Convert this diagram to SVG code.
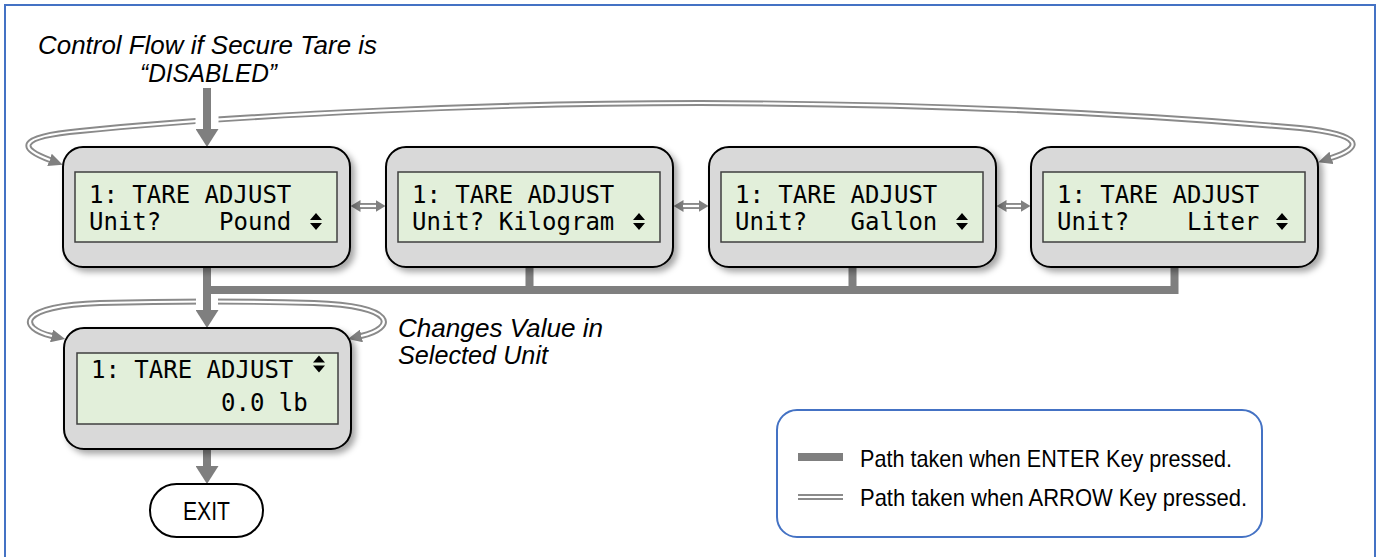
<svg xmlns="http://www.w3.org/2000/svg" width="1378" height="557" viewBox="0 0 1378 557">
  <defs>
    <style>
      .node { fill: #d9d9d9; stroke: #000; stroke-width: 2; }
      .lcd { fill: #e2efda; stroke: #3f3f3f; stroke-width: 1.5; }
      .mono { font-family: "DejaVu Sans Mono", "Liberation Mono", monospace; font-size: 24px; fill: #000; }
      .ital { font-family: "Liberation Sans", Arial, sans-serif; font-style: italic; font-size: 26px; fill: #000; }
      .sans { font-family: "Liberation Sans", Arial, sans-serif; font-size: 24px; fill: #000; }
      .enter { fill: none; stroke: #7f7f7f; stroke-width: 8; }
      .dbl-out { fill: none; stroke: #8a8a8a; stroke-width: 6; }
      .dbl-in { fill: none; stroke: #fff; stroke-width: 2.2; }
      .updn { fill: #000; }
    </style>
    <filter id="shadow" x="-10%" y="-10%" width="125%" height="130%">
      <feDropShadow dx="4" dy="4" stdDeviation="3" flood-color="#000" flood-opacity="0.35"/>
    </filter>
    <marker id="ah-enter" markerUnits="userSpaceOnUse" markerWidth="18" markerHeight="23" viewBox="0 0 18 23" refX="0" refY="11.5" orient="auto">
      <path d="M0,0 L18,11.5 L0,23 z" fill="#7f7f7f"/>
    </marker>
    <marker id="ah-arrow" markerUnits="userSpaceOnUse" markerWidth="14" markerHeight="13" viewBox="0 0 14 13" refX="0.5" refY="6.5" orient="auto-start-reverse">
      <path d="M0,0 L14,6.5 L0,13 z" fill="#808080"/>
    </marker>
    <marker id="ah-small" markerUnits="userSpaceOnUse" markerWidth="10" markerHeight="12" viewBox="0 0 10 12" refX="0.5" refY="6" orient="auto-start-reverse">
      <path d="M0,0 L10,6 L0,12 z" fill="#808080"/>
    </marker>
  </defs>

  <rect x="5" y="5" width="1370" height="560" fill="#fff" stroke="#4472c4" stroke-width="2"/>

  <g id="labels">
    <text class="ital" x="38" y="54" textLength="339" lengthAdjust="spacingAndGlyphs">Control Flow if Secure Tare is</text>
    <text class="ital" x="140" y="82" textLength="137" lengthAdjust="spacingAndGlyphs">“DISABLED”</text>
    <text class="ital" x="398" y="337" textLength="205" lengthAdjust="spacingAndGlyphs">Changes Value in</text>
    <text class="ital" x="398" y="364" textLength="150" lengthAdjust="spacingAndGlyphs">Selected Unit</text>
  </g>

  <g id="connectors">
    <path class="dbl-out" d="M 50,160 C 20,149 14,137 80,131 C 250,114 500,103 700,103 C 950,104 1150,115 1300,128 C 1366,135 1362,148 1331,158" marker-start="url(#ah-arrow)" marker-end="url(#ah-arrow)"/>
    <path class="dbl-in" d="M 50,160 C 20,149 14,137 80,131 C 250,114 500,103 700,103 C 950,104 1150,115 1300,128 C 1366,135 1362,148 1331,158"/>
    <path class="dbl-out" d="M 52,336 C 18,328 16,306 100,303 Q 207,300 314,303 C 398,306 396,328 361,336" marker-start="url(#ah-arrow)" marker-end="url(#ah-arrow)"/>
    <path class="dbl-in" d="M 52,336 C 18,328 16,306 100,303 Q 207,300 314,303 C 398,306 396,328 361,336"/>
    <path class="dbl-out" d="M 360,206 H 376" marker-start="url(#ah-small)" marker-end="url(#ah-small)"/>
    <path class="dbl-in" d="M 360,206 H 376"/>
    <path class="dbl-out" d="M 683,206 H 699" marker-start="url(#ah-small)" marker-end="url(#ah-small)"/>
    <path class="dbl-in" d="M 683,206 H 699"/>
    <path class="dbl-out" d="M 1006,206 H 1021" marker-start="url(#ah-small)" marker-end="url(#ah-small)"/>
    <path class="dbl-in" d="M 1006,206 H 1021"/>
    <rect x="195.5" y="100" width="23" height="30" fill="#fff"/>
    <rect x="196" y="296" width="22" height="14" fill="#fff"/>
    <path class="enter" d="M 207,88 V 129" marker-end="url(#ah-enter)"/>
    <path class="enter" d="M 207,267 V 310" marker-end="url(#ah-enter)"/>
    <path class="enter" d="M 203,290 H 1174.5 V 267 M 529.5,267 V 290 M 852.5,267 V 290"/>
    <path class="enter" d="M 207,449 V 466" marker-end="url(#ah-enter)"/>
  </g>

  <g id="node-pound">
    <rect class="node" x="63" y="147" width="287" height="120" rx="20" filter="url(#shadow)"/>
    <rect class="lcd" x="75" y="172" width="262" height="70"/>
    <text class="mono" x="89" y="203">1: TARE ADJUST</text>
    <text class="mono" x="89" y="230" xml:space="preserve">Unit?    Pound</text>
    <path class="updn" d="M310,220 h12 l-6,-7 z M310,223 h12 l-6,7 z"/>
  </g>

  <g id="node-kilogram">
    <rect class="node" x="386" y="147" width="287" height="120" rx="20" filter="url(#shadow)"/>
    <rect class="lcd" x="398" y="172" width="262" height="70"/>
    <text class="mono" x="412" y="203">1: TARE ADJUST</text>
    <text class="mono" x="412" y="230" xml:space="preserve">Unit? Kilogram</text>
    <path class="updn" d="M633,220 h12 l-6,-7 z M633,223 h12 l-6,7 z"/>
  </g>

  <g id="node-gallon">
    <rect class="node" x="709" y="147" width="287" height="120" rx="20" filter="url(#shadow)"/>
    <rect class="lcd" x="721" y="172" width="262" height="70"/>
    <text class="mono" x="735" y="203">1: TARE ADJUST</text>
    <text class="mono" x="735" y="230" xml:space="preserve">Unit?   Gallon</text>
    <path class="updn" d="M956,220 h12 l-6,-7 z M956,223 h12 l-6,7 z"/>
  </g>

  <g id="node-liter">
    <rect class="node" x="1031" y="147" width="287" height="120" rx="20" filter="url(#shadow)"/>
    <rect class="lcd" x="1043" y="172" width="262" height="70"/>
    <text class="mono" x="1057" y="203">1: TARE ADJUST</text>
    <text class="mono" x="1057" y="230" xml:space="preserve">Unit?    Liter</text>
    <path class="updn" d="M1276,220 h12 l-6,-7 z M1276,223 h12 l-6,7 z"/>
  </g>

  <g id="node-value">
    <rect class="node" x="64" y="328" width="287" height="121" rx="20" filter="url(#shadow)"/>
    <rect class="lcd" x="77" y="353" width="261" height="71"/>
    <text class="mono" x="91" y="378">1: TARE ADJUST</text>
    <text class="mono" x="91" y="411" xml:space="preserve">         0.0 lb</text>
    <path class="updn" d="M313,362.5 h12 l-6,-7 z M313,365.5 h12 l-6,7 z"/>
  </g>

  <g id="node-exit">
    <rect x="150" y="484" width="113" height="53" rx="26.5" fill="#fff" stroke="#000" stroke-width="2"/>
    <text x="183" y="520" textLength="47" lengthAdjust="spacingAndGlyphs" font-family="'Liberation Sans', Arial, sans-serif" font-size="26px">EXIT</text>
  </g>

  <g id="legend">
    <rect x="777" y="410" width="485" height="127" rx="20" fill="#fff" stroke="#4472c4" stroke-width="2"/>
    <line x1="798" y1="457" x2="843" y2="457" stroke="#7f7f7f" stroke-width="8"/>
    <line x1="798" y1="497" x2="843" y2="497" stroke="#8a8a8a" stroke-width="6"/>
    <line x1="797" y1="497" x2="844" y2="497" stroke="#fff" stroke-width="2"/>
    <text class="sans" x="860" y="467" textLength="372" lengthAdjust="spacingAndGlyphs">Path taken when ENTER Key pressed.</text>
    <text class="sans" x="860" y="506" textLength="387" lengthAdjust="spacingAndGlyphs">Path taken when ARROW Key pressed.</text>
  </g>
</svg>
